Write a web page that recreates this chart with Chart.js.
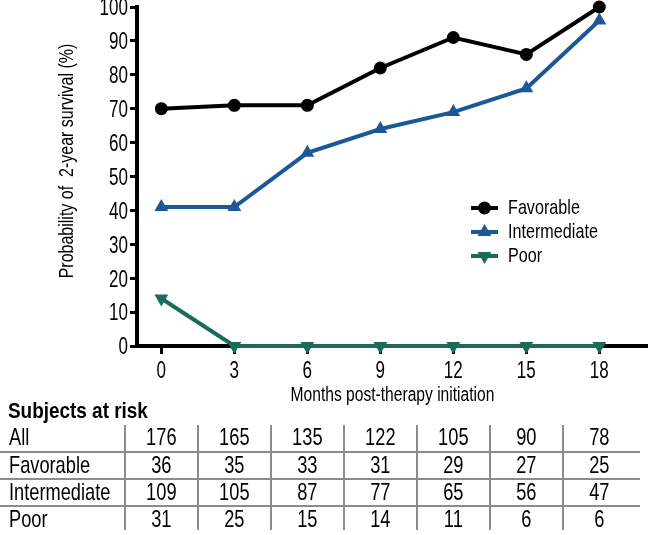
<!DOCTYPE html>
<html>
<head>
<meta charset="utf-8">
<title>Probability of 2-year survival</title>
<script src="https://cdn.jsdelivr.net/npm/chart.js@4"></script>
<style>
    html, body { margin: 0; padding: 0; background: #fff; }
    #wrap { width: 648px; height: 535px; position: relative; }
</style>
</head>
<body>
<div id="wrap"><canvas id="survivalChart"></canvas></div>
<script>
// Months of follow-up (x axis)
const months = [0, 3, 6, 9, 12, 15, 18];

// Probability of 2-year survival (%) per risk group
const favorable = [70, 71, 71, 82, 91, 86, 100];
const intermediate = [41, 41, 57, 64, 69, 76, 96];
const poor = [14, 0, 0, 0, 0, 0, 0];

// Y tick values
const yTicks = [0, 10, 20, 30, 40, 50, 60, 70, 80, 90, 100];

// Subjects at risk table
const riskLabels = ['All', 'Favorable', 'Intermediate', 'Poor'];
const riskAll = [176, 165, 135, 122, 105, 90, 78];
const riskFavorable = [36, 35, 33, 31, 29, 27, 25];
const riskIntermediate = [109, 105, 87, 77, 65, 56, 47];
const riskPoor = [31, 25, 15, 14, 11, 6, 6];

// no narrow face installed, so squeeze Liberation Sans horizontally
const FONT = "'Liberation Sans', Arial, sans-serif";
Chart.defaults.font.family = FONT;
Chart.defaults.color = '#000';

function toPoints(values) {
    return values.map((v, i) => ({ x: months[i], y: v }));
}

function narrowText(ctx, text, x, y, align, font, squeeze) {
    ctx.save();
    ctx.translate(x, y);
    ctx.scale(squeeze, 1);
    ctx.font = font;
    ctx.fillStyle = '#000';
    ctx.textAlign = align;
    ctx.textBaseline = 'middle';
    ctx.fillText(text, 0, 0);
    ctx.restore();
}

// Tick labels and axis titles, placed from the chart's scales
const axisText = {
    id: 'axisText',
    afterDraw(chart) {
        const ctx = chart.ctx;
        const xs = chart.scales.x;
        const ys = chart.scales.y;
        xs.ticks.forEach(t => {
            narrowText(ctx, String(t.value), xs.getPixelForValue(t.value), 372, 'center', '23px ' + FONT, 0.74);
        });
        ys.ticks.forEach(t => {
            narrowText(ctx, String(t.value), 128, ys.getPixelForValue(t.value) + 2, 'right', '23px ' + FONT, 0.74);
        });
        narrowText(ctx, 'Months post-therapy initiation', (xs.left + xs.right) / 2, 395, 'center', '20px ' + FONT, 0.78);

        ctx.save();
        ctx.translate(67, 161);
        ctx.rotate(-Math.PI / 2);
        narrowText(ctx, 'Probability of  2-year survival (%)', 0, 0, 'center', '20px ' + FONT, 0.8);
        ctx.restore();
    }
};

// Legend drawn as line + marker, like the original figure
const lineLegend = {
    id: 'lineLegend',
    afterDraw(chart) {
        const ctx = chart.ctx;
        chart.data.datasets.forEach((ds, i) => {
            const y = 208 + i * 24;
            ctx.save();
            ctx.strokeStyle = ds.borderColor;
            ctx.lineWidth = 4;
            ctx.beginPath();
            ctx.moveTo(471, y);
            ctx.lineTo(498, y);
            ctx.stroke();
            ctx.fillStyle = ds.borderColor;
            Chart.helpers.drawPoint(ctx, {
                pointStyle: ds.pointStyle,
                radius: ds.pointRadius,
                rotation: ds.pointRotation || 0,
                borderWidth: 0
            }, 484.5, y);
            ctx.restore();
            narrowText(ctx, ds.label, 508, y, 'left', '21px ' + FONT, 0.77);
        });
    }
};

// Subjects-at-risk table, columns follow the x scale
const riskTable = {
    id: 'riskTable',
    afterDraw(chart) {
        const ctx = chart.ctx;
        const x = chart.scales.x;
        const rows = [riskAll, riskFavorable, riskIntermediate, riskPoor];
        const rowY = [438, 466, 493, 520];

        narrowText(ctx, 'Subjects at risk', 8, 412, 'left', 'bold 22px ' + FONT, 0.86);

        ctx.save();
        ctx.strokeStyle = '#8c8c8c';
        ctx.lineWidth = 2;
        [452, 479, 506].forEach(y => {
            ctx.beginPath();
            ctx.moveTo(0, y);
            ctx.lineTo(640, y);
            ctx.stroke();
        });
        months.forEach(m => {
            const px = Math.round(x.getPixelForValue(m - 1.5));
            ctx.beginPath();
            ctx.moveTo(px, 425);
            ctx.lineTo(px, 530);
            ctx.stroke();
        });
        ctx.restore();

        rows.forEach((vals, r) => {
            narrowText(ctx, riskLabels[r], 9, rowY[r], 'left', '24px ' + FONT, 0.76);
            vals.forEach((v, i) => {
                narrowText(ctx, String(v), x.getPixelForValue(months[i]), rowY[r], 'center', '24px ' + FONT, 0.76);
            });
        });
    }
};

const ctx = document.getElementById('survivalChart').getContext('2d');
new Chart(ctx, {
    type: 'line',
    data: {
        datasets: [{
            label: 'Favorable',
            data: toPoints(favorable),
            borderColor: '#000000',
            backgroundColor: '#000000',
            pointStyle: 'circle',
            pointRadius: 6.5
        }, {
            label: 'Intermediate',
            data: toPoints(intermediate),
            borderColor: '#1c5896',
            backgroundColor: '#1c5896',
            pointStyle: 'triangle',
            pointRadius: 8
        }, {
            label: 'Poor',
            data: toPoints(poor),
            borderColor: '#1c6b59',
            backgroundColor: '#1c6b59',
            pointStyle: 'triangle',
            pointRotation: 180,
            pointRadius: 8
        }]
    },
    options: {
        responsive: true,
        maintainAspectRatio: false,
        animation: false,
        clip: false,
        devicePixelRatio: 1,
        elements: {
            line: { borderWidth: 4, tension: 0 },
            point: { borderWidth: 0, hoverRadius: 7 }
        },
        layout: { autoPadding: false, padding: { top: 7, right: 0, bottom: 129, left: 0 } },
        plugins: {
            legend: { display: false },
            tooltip: { enabled: false }
        },
        scales: {
            x: {
                type: 'linear',
                min: -1,
                max: 20,
                afterBuildTicks: scale => { scale.ticks = months.map(v => ({ value: v })); },
                afterFit: scale => { scale.height = 60; scale.paddingLeft = 0; scale.paddingRight = 0; },
                grid: { drawOnChartArea: false, drawTicks: true, tickLength: 8, tickWidth: 3, color: '#000' },
                border: { display: true, width: 4, color: '#000' },
                ticks: { display: false }
            },
            y: {
                min: 0,
                max: 100,
                afterBuildTicks: scale => { scale.ticks = yTicks.map(v => ({ value: v })); },
                afterFit: scale => { scale.width = 137; scale.paddingTop = 0; scale.paddingBottom = 0; },
                grid: { drawOnChartArea: false, drawTicks: true, tickLength: 7, tickWidth: 3, color: '#000' },
                border: { display: true, width: 4, color: '#000' },
                ticks: { display: false }
            }
        }
    },
    plugins: [axisText, lineLegend, riskTable]
});
</script>
</body>
</html>
